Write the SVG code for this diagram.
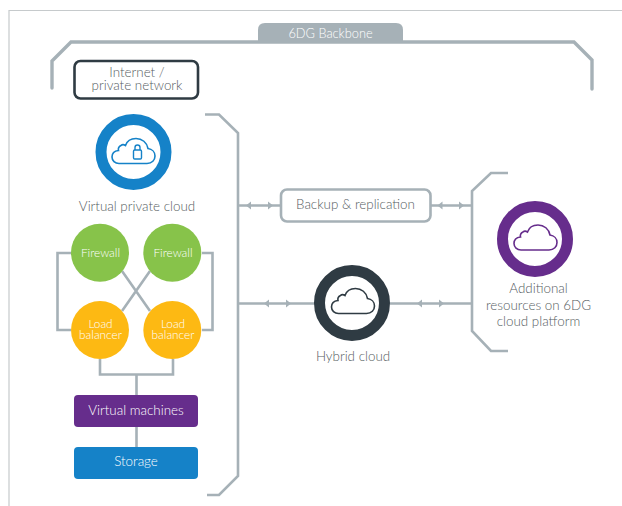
<svg xmlns="http://www.w3.org/2000/svg" xmlns:xlink="http://www.w3.org/1999/xlink" width="622" height="506" viewBox="0 0 622 506">
<style>
text{font-family:Lato,"Liberation Sans",sans-serif;font-weight:300;font-size:13.4px;fill:#565d62;text-anchor:middle}
.w{fill:#fff}
.s{font-size:11.8px}
.line{fill:none;stroke:#a6b1b7;stroke-width:2.6;stroke-linejoin:miter}
.thick{stroke-width:3.4;stroke-linecap:round}
.head{fill:#a6b1b7}
.ring{fill:#fff;stroke-width:11}
.cloud{fill:none;stroke-width:1.6}
</style>
<defs>
<path id="cloud" d="M8 26H36C41 26 44 22.500 44 18.500C44 14.500 41 11.500 37 11C36 5 31 1 25 1C20 1 16 3.500 14.500 8C13 7 11 7 10 8C8 9 7 11 7.500 13C3 13.500 1 16 1 19.500C1 23 4 26 8 26Z"/>
<path id="l" d="M-2.500 0L2.500 -4V4Z"/>
<path id="r" d="M2.500 0L-2.500 -4V4Z"/>
</defs>
<rect x="0" y="0" width="622" height="506" fill="#fff"/>
<path d="M9 506V10.500H622" fill="none" stroke="#c6cacc" stroke-width="1.2"/>

<g id="connectors">
<path class="line thick" d="M52 88V61L71 42H574L592 60V89"/>
<path class="line" d="M205 114.500H219L238 133V476L219 495H207"/>
<path class="line" d="M508 173H491L472 191V331L491 351H508"/>
<path class="line" d="M238 205.500H280M431 205.500H472M238 303.500H315M390 303.500H472"/>
<g class="head">
<use xlink:href="#l" x="248.500" y="205.500"/><use xlink:href="#r" x="270.500" y="205.500"/>
<use xlink:href="#l" x="440" y="205.500"/><use xlink:href="#r" x="461.500" y="205.500"/>
<use xlink:href="#l" x="266.500" y="303.500"/><use xlink:href="#r" x="288.500" y="303.500"/>
<use xlink:href="#l" x="419.500" y="303.500"/><use xlink:href="#r" x="441.500" y="303.500"/>
</g>
<path class="line" d="M71 253H57.500V330H71M202 253H212.500V330H202"/>
<path class="line" d="M122 271L150 311M150 271L122 311"/>
<path class="line" d="M100 359V374.500H173V359M136.500 374.500V395M136.500 427V447"/>
</g>

<g id="backbone">
<path d="M258 42V30Q258 23 265 23H396Q403 23 403 30V42Z" fill="#a6b1b7"/>
<text x="330.500" y="38" class="w" style="font-size:12.800px">6DG Backbone</text>
</g>

<g id="internet">
<rect x="74.500" y="61" width="123.500" height="37.500" rx="6" fill="#fff" stroke="#2f3b43" stroke-width="2.600"/>
<text x="137" y="77">Internet /<tspan x="137" dy="13">private network</tspan></text>
</g>

<g id="vpc">
<circle class="ring" cx="133.500" cy="152" r="32.500" stroke="#1582c8"/>
<use xlink:href="#cloud" class="cloud" x="111" y="137.500" stroke="#1582c8"/>
<rect x="133.500" y="150" width="8" height="9" rx="1.200" fill="none" stroke="#1582c8" stroke-width="1.400"/>
<path d="M135 150V147.500A2.500 2.500 0 0 1 140 147.500V150" fill="none" stroke="#1582c8" stroke-width="1.400"/>
<text x="137" y="211">Virtual private cloud</text>
</g>

<g id="firewall-1"><circle cx="100" cy="252.700" r="29" fill="#87c34a"/><text x="100.500" y="256.500" class="w s">Firewall</text></g>
<g id="firewall-2"><circle cx="172.300" cy="252.700" r="29" fill="#87c34a"/><text x="173" y="256.500" class="w s">Firewall</text></g>
<g id="lb-1"><circle cx="100" cy="330" r="29" fill="#fdb913"/><text x="100.500" y="328" class="w s">Load<tspan x="100.500" dy="11">balancer</tspan></text></g>
<g id="lb-2"><circle cx="172.300" cy="330" r="29" fill="#fdb913"/><text x="173" y="328" class="w s">Load<tspan x="173" dy="11">balancer</tspan></text></g>

<g id="vm"><rect x="74" y="395" width="124" height="32" rx="4" fill="#662d8c"/><text x="136" y="415" class="w">Virtual machines</text></g>
<g id="storage"><rect x="74" y="447" width="124" height="32" rx="4" fill="#1582c8"/><text x="136" y="466" class="w">Storage</text></g>

<g id="backup"><rect x="281" y="189.500" width="149.500" height="32" rx="6" fill="#fff" stroke="#a6b1b7" stroke-width="2.600"/><text x="355.500" y="209">Backup &amp; replication</text></g>

<g id="hybrid">
<circle class="ring" cx="352" cy="303" r="32.500" stroke="#2f3b43"/>
<use xlink:href="#cloud" class="cloud" x="330.500" y="287.500" stroke="#2f3b43"/>
<text x="353" y="361">Hybrid cloud</text>
</g>

<g id="additional">
<circle class="ring" cx="535" cy="239" r="32.500" stroke="#662d8c"/>
<use xlink:href="#cloud" class="cloud" x="513" y="224" stroke="#662d8c"/>
<text x="538.500" y="293">Additional</text>
<text x="538.500" y="309.500">resources on 6DG</text>
<text x="538.500" y="325.500">cloud platform</text>
</g>
</svg>
